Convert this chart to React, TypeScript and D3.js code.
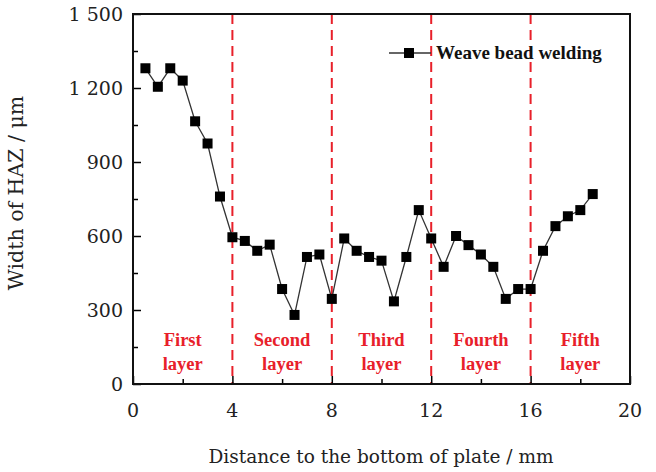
import React, { useEffect, useRef } from 'react';
import * as d3 from 'd3';

// distance to the bottom of plate (mm)
const distance = [
  0.5, 1, 1.5, 2, 2.5, 3, 3.5, 4, 4.5, 5, 5.5, 6, 6.5, 7, 7.5, 8, 8.5, 9, 9.5,
  10, 10.5, 11, 11.5, 12, 12.5, 13, 13.5, 14, 14.5, 15, 15.5, 16, 16.5, 17,
  17.5, 18, 18.5,
];
// width of HAZ (um)
const hazWidth = [
  1280, 1205, 1280, 1230, 1065, 975, 760, 595, 580, 540, 565, 385, 280, 515,
  525, 345, 590, 540, 515, 500, 335, 515, 705, 590, 475, 600, 563, 525, 475,
  345, 385, 385, 540, 640, 680, 705, 770,
];
const layerBounds = [4, 8, 12, 16];
const layerLabels = [
  ['First', 'layer'],
  ['Second', 'layer'],
  ['Third', 'layer'],
  ['Fourth', 'layer'],
  ['Fifth', 'layer'],
];
const layerCenters = [2, 6, 10, 14, 18];
const xTicks = [0, 4, 8, 12, 16, 20];
const yTicks = [0, 300, 600, 900, 1200, 1500];
const yTickLabels = ['0', '300', '600', '900', '1 200', '1 500'];

const App = () => {
  const ref = useRef<SVGSVGElement>(null);

  useEffect(() => {
    const svg = d3.select(ref.current);
    svg.selectAll('*').remove();

    const width = 656;
    const height = 472;
    const margin = { top: 14, right: 26, bottom: 88, left: 133 };
    const serif = '"DejaVu Serif", serif';
    const times = '"Liberation Serif", serif';

    const x = d3.scaleLinear().domain([0, 20]).range([margin.left, width - margin.right]);
    const y = d3.scaleLinear().domain([0, 1500]).range([height - margin.bottom, margin.top]);

    svg.append('rect')
      .attr('width', width)
      .attr('height', height)
      .attr('fill', 'white');

    // layer separators
    svg.selectAll('.sep')
      .data(layerBounds)
      .enter().append('line')
      .attr('x1', d => x(d))
      .attr('x2', d => x(d))
      .attr('y1', y(1500))
      .attr('y2', y(0))
      .attr('stroke', '#e8202a')
      .attr('stroke-width', 2)
      .attr('stroke-dasharray', '10,6');

    // layer labels
    const lbl = svg.selectAll('.layer')
      .data(layerLabels)
      .enter().append('text')
      .attr('text-anchor', 'middle')
      .attr('fill', '#e8202a')
      .attr('font-family', times)
      .attr('font-weight', 'bold')
      .attr('font-size', '18.5px');
    lbl.append('tspan')
      .attr('x', (d, i) => x(layerCenters[i]))
      .attr('y', 346)
      .text(d => d[0]);
    lbl.append('tspan')
      .attr('x', (d, i) => x(layerCenters[i]))
      .attr('y', 370)
      .text(d => d[1]);

    // axes with inward ticks
    const xAxis = d3.axisBottom(x)
      .tickValues(d3.range(0, 21, 2))
      .tickSizeInner(-6)
      .tickSizeOuter(0)
      .tickFormat(() => '');
    const gx = svg.append('g')
      .attr('transform', `translate(0,${y(0)})`)
      .call(xAxis);
    gx.selectAll('.tick line')
      .attr('y2', (d: any) => (xTicks.includes(d) ? -8 : -5))
      .attr('stroke-width', 1.5);

    const yAxis = d3.axisLeft(y)
      .tickValues(d3.range(0, 1501, 150))
      .tickSizeInner(-6)
      .tickSizeOuter(0)
      .tickFormat(() => '');
    const gy = svg.append('g')
      .attr('transform', `translate(${x(0)},0)`)
      .call(yAxis);
    gy.selectAll('.tick line')
      .attr('x2', (d: any) => (yTicks.includes(d) ? 8 : 5))
      .attr('stroke-width', 1.5);
    svg.selectAll('path.domain').remove();

    // tick labels
    svg.selectAll('.xl')
      .data(xTicks)
      .enter().append('text')
      .attr('x', d => x(d))
      .attr('y', y(0) + 33)
      .attr('text-anchor', 'middle')
      .attr('font-family', serif)
      .attr('font-size', '19px')
      .attr('fill', '#222')
      .text(d => String(d));

    svg.selectAll('.yl')
      .data(yTicks)
      .enter().append('text')
      .attr('x', x(0) - 10)
      .attr('y', d => y(d) + 7)
      .attr('text-anchor', 'end')
      .attr('font-family', serif)
      .attr('font-size', '19px')
      .attr('fill', '#222')
      .text((d, i) => yTickLabels[i]);

    // frame
    svg.append('rect')
      .attr('x', x(0))
      .attr('y', y(1500))
      .attr('width', x(20) - x(0))
      .attr('height', y(0) - y(1500))
      .attr('fill', 'none')
      .attr('stroke', '#111')
      .attr('stroke-width', 2);

    // data line
    const line = d3.line<number>()
      .x((d, i) => x(distance[i]))
      .y(d => y(d));
    svg.append('path')
      .datum(hazWidth)
      .attr('fill', 'none')
      .attr('stroke', '#333')
      .attr('stroke-width', 1.3)
      .attr('d', line);

    svg.selectAll('.pt')
      .data(hazWidth)
      .enter().append('rect')
      .attr('x', (d, i) => x(distance[i]) - 5)
      .attr('y', d => y(d) - 5)
      .attr('width', 10)
      .attr('height', 10)
      .attr('fill', '#000');

    // legend
    svg.append('line')
      .attr('x1', 389).attr('x2', 431)
      .attr('y1', 53).attr('y2', 53)
      .attr('stroke', '#333').attr('stroke-width', 1.3);
    svg.append('rect')
      .attr('x', 404).attr('y', 48)
      .attr('width', 10).attr('height', 10)
      .attr('fill', '#000');
    svg.append('text')
      .attr('x', 436)
      .attr('y', 59)
      .attr('font-family', times)
      .attr('font-weight', 'bold')
      .attr('font-size', '19px')
      .attr('fill', '#111')
      .text('Weave bead welding');

    // axis titles
    svg.append('text')
      .attr('x', 381)
      .attr('y', 463)
      .attr('text-anchor', 'middle')
      .attr('font-family', serif)
      .attr('font-size', '18.5px')
      .attr('fill', '#222')
      .text('Distance to the bottom of plate / mm');

    svg.append('text')
      .attr('transform', 'translate(23,193) rotate(-90)')
      .attr('text-anchor', 'middle')
      .attr('font-family', serif)
      .attr('font-size', '20.5px')
      .attr('fill', '#222')
      .text('Width of HAZ / \u03bcm');
  }, []);

  return (
    <svg
      ref={ref}
      width={656}
      height={472}
      style={{ position: 'absolute', left: 0, top: 0 }}
    ></svg>
  );
};

export default App;
